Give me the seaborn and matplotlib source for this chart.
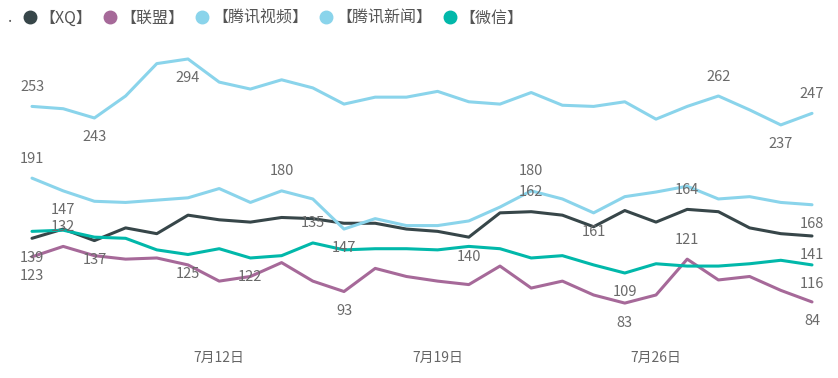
import numpy as np
import pandas as pd
import matplotlib
matplotlib.use("Agg")
import matplotlib.pyplot as plt
import matplotlib.dates as mdates
from matplotlib.lines import Line2D
import seaborn as sns

# ---- data ----
dates = pd.date_range("2024-07-06", periods=26, freq="D")
series_names = ["【XQ】", "【联盟】", "【腾讯视频】", "【腾讯新闻】", "【微信】"]
xq = [139, 147, 137, 148, 143, 159, 155, 153, 157, 156, 152, 152, 147, 145, 140, 161, 162, 159, 149, 163, 153, 164, 162, 148, 143, 141]
lianmeng = [123, 132, 124, 121, 122, 116, 102, 106, 118, 102, 93, 113, 106, 102, 99, 115, 96, 102, 90, 83, 90, 121, 103, 106, 94, 84]
tx_video = [253, 251, 243, 262, 290, 294, 274, 268, 276, 269, 255, 261, 261, 266, 257, 255, 265, 254, 253, 257, 242, 253, 262, 250, 237, 247]
tx_news = [191, 180, 171, 170, 172, 174, 182, 170, 180, 173, 147, 156, 150, 150, 154, 166, 180, 173, 161, 175, 179, 184, 173, 175, 170, 168]
weixin = [145, 146, 140, 139, 129, 125, 130, 122, 124, 135, 129, 130, 130, 129, 132, 130, 122, 124, 116, 109, 117, 115, 115, 117, 120, 116]
colors = ["#374649", "#A66999", "#8AD4EB", "#8AD4EB", "#01B8AA"]
tick_dates = ["2024-07-12", "2024-07-19", "2024-07-26"]
tick_labels = ["7月12日", "7月19日", "7月26日"]

# labelled points: (series index, point index, "above"/"below")
labels = [
    (2, 0, "above"), (2, 2, "below"), (2, 5, "below"), (2, 22, "above"), (2, 24, "below"), (2, 25, "above"),
    (3, 0, "above"), (3, 8, "above"), (3, 10, "below"), (3, 16, "above"), (3, 18, "below"), (3, 25, "below"),
    (0, 0, "below"), (0, 1, "above"), (0, 2, "below"), (0, 14, "below"), (0, 16, "above"), (0, 21, "above"), (0, 25, "below"),
    (1, 0, "below"), (1, 1, "above"), (1, 10, "below"), (1, 19, "below"), (1, 21, "above"), (1, 25, "below"),
    (4, 5, "below"), (4, 7, "below"), (4, 9, "above"), (4, 19, "below"), (4, 25, "below"),
]

values = [xq, lianmeng, tx_video, tx_news, weixin]
df = pd.concat(
    [pd.DataFrame({"date": dates, "value": v, "series": n}) for n, v in zip(series_names, values)],
    ignore_index=True,
)

sns.set_theme(style="white")
plt.rcParams["font.family"] = ["Noto Sans CJK SC", "DejaVu Sans"]

W, H = 838, 378
fig = plt.figure(figsize=(W / 100, H / 100), dpi=100)
# axes in pixel coordinates: left 20, right 825, top 40, bottom 340
ax = fig.add_axes([20 / W, (H - 340) / H, (825 - 20) / W, 300 / H])

sns.lineplot(data=df, x="date", y="value", hue="series", hue_order=series_names,
             palette=colors, linewidth=2.2, legend=False, ax=ax, units="series", estimator=None)

d0 = mdates.date2num(dates[0])
# point i at pixel 32 + 31.2 i
ax.set_xlim(d0 + (20 - 32) / 31.2, d0 + (825 - 32) / 31.2)
ax.set_ylim(51.1, 310.4)

ax.set_xticks([mdates.date2num(pd.Timestamp(t)) for t in tick_dates])
ax.set_xticklabels(tick_labels, fontsize=10, color="#666666")
ax.tick_params(axis="x", length=0, pad=8)
ax.set_yticks([])
ax.set_xlabel("")
ax.set_ylabel("")
for s in ax.spines.values():
    s.set_visible(False)
ax.grid(False)

for si, pi, pos in labels:
    v = values[si][pi]
    off = 14 if pos == "above" else -14
    ax.annotate(str(v), (dates[pi], v), xytext=(0, off), textcoords="offset points",
                ha="center", va="center", fontsize=10.5, color="#6a6a6a",
                annotation_clip=False)

handles = [Line2D([], [], marker="o", linestyle="none", markersize=9,
                  markerfacecolor=c, markeredgecolor=c) for c in colors]
fig.legend(handles, series_names, loc="center left", bbox_to_anchor=(20 / W, 1 - 18 / H),
           ncol=5, frameon=False, handletextpad=0.0, columnspacing=0.55,
           handlelength=1.2, borderaxespad=0, borderpad=0,
           prop={"size": 11.5}, labelcolor="#555555")
fig.text(8 / W, 1 - 18 / H, ".", fontsize=11, color="#555555", va="center")

fig.savefig("out.png", dpi=100)
